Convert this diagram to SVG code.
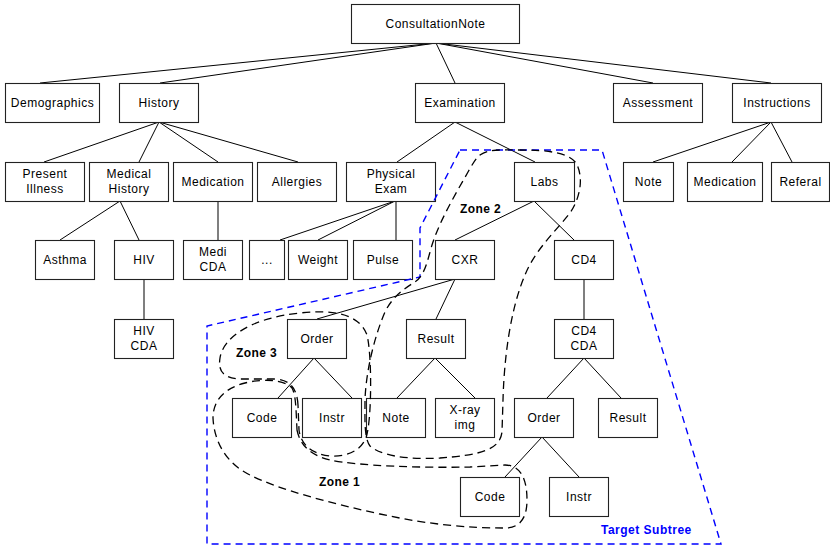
<svg xmlns="http://www.w3.org/2000/svg" width="830" height="549" viewBox="0 0 830 549">
<style>
.box{fill:#fff;stroke:#222;stroke-width:1.1}
.t{font-family:"Liberation Sans",Arial,sans-serif;font-size:12px;letter-spacing:0.5px;text-anchor:middle;fill:#000}
.zl{font-family:"Liberation Sans",Arial,sans-serif;font-size:12px;font-weight:bold;letter-spacing:0.4px;fill:#000}
.tl{font-family:"Liberation Sans",Arial,sans-serif;font-size:12px;font-weight:bold;letter-spacing:0.5px;fill:#0000ff}
.e{stroke:#000;stroke-width:1;fill:none}
.v{stroke:#555;stroke-width:1.5;fill:none}
.zone{fill:none;stroke:#000;stroke-width:1.3;stroke-dasharray:8,5}
.target{fill:none;stroke:#0000ff;stroke-width:1.4;stroke-dasharray:7,5}
</style>
<rect width="830" height="549" fill="#fff"/>
<g id="connectors">
<line class="e" x1="436" y1="43" x2="40" y2="83"/>
<line class="e" x1="436" y1="43" x2="160" y2="83"/>
<line class="e" x1="436" y1="43" x2="455" y2="83"/>
<line class="e" x1="436" y1="43" x2="653" y2="83"/>
<line class="e" x1="436" y1="43" x2="771" y2="83"/>
<line class="e" x1="159" y1="122" x2="44" y2="162"/>
<line class="e" x1="159" y1="122" x2="139" y2="162"/>
<line class="e" x1="159" y1="122" x2="218" y2="162"/>
<line class="e" x1="159" y1="122" x2="298" y2="162"/>
<line class="e" x1="120" y1="201" x2="60" y2="240"/>
<line class="e" x1="120" y1="201" x2="139" y2="240"/>
<line class="v" x1="218" y1="201" x2="218" y2="240"/>
<line class="e" x1="395" y1="201" x2="280" y2="240"/>
<line class="e" x1="395" y1="201" x2="318" y2="240"/>
<line class="v" x1="396" y1="201" x2="396" y2="240"/>
<line class="e" x1="455" y1="122" x2="397" y2="162"/>
<line class="e" x1="455" y1="122" x2="535" y2="162"/>
<line class="e" x1="534" y1="201" x2="455" y2="240"/>
<line class="e" x1="534" y1="201" x2="574" y2="240"/>
<line class="e" x1="771" y1="122" x2="653" y2="162"/>
<line class="e" x1="771" y1="122" x2="732" y2="162"/>
<line class="e" x1="771" y1="122" x2="792" y2="162"/>
<line class="v" x1="144" y1="279" x2="144" y2="319"/>
<line class="e" x1="455" y1="279" x2="317" y2="319"/>
<line class="e" x1="455" y1="279" x2="436" y2="319"/>
<line class="v" x1="584" y1="279" x2="584" y2="319"/>
<line class="e" x1="314" y1="358" x2="278" y2="398"/>
<line class="e" x1="314" y1="358" x2="352" y2="398"/>
<line class="e" x1="435" y1="358" x2="397" y2="398"/>
<line class="e" x1="435" y1="358" x2="475" y2="398"/>
<line class="e" x1="584" y1="358" x2="547" y2="398"/>
<line class="e" x1="584" y1="358" x2="621" y2="398"/>
<line class="e" x1="542" y1="437" x2="505" y2="477"/>
<line class="e" x1="542" y1="437" x2="579" y2="477"/>
</g>
<g id="n-consultationnote"><rect class="box" x="351.5" y="4.5" width="168" height="39"/><text class="t" x="435.5" y="28">ConsultationNote</text></g>
<g id="n-demographics"><rect class="box" x="5.5" y="83.5" width="94" height="39"/><text class="t" x="52.5" y="107">Demographics</text></g>
<g id="n-history"><rect class="box" x="119.5" y="83.5" width="79" height="39"/><text class="t" x="159" y="107">History</text></g>
<g id="n-examination"><rect class="box" x="415.5" y="83.5" width="89" height="39"/><text class="t" x="460" y="107">Examination</text></g>
<g id="n-assessment"><rect class="box" x="613.5" y="83.5" width="89" height="39"/><text class="t" x="658" y="107">Assessment</text></g>
<g id="n-instructions"><rect class="box" x="732.5" y="83.5" width="89" height="39"/><text class="t" x="777" y="107">Instructions</text></g>
<g id="n-presentillness"><rect class="box" x="5.5" y="162.5" width="79" height="39"/><text class="t" x="45" y="178">Present</text><text class="t" x="45" y="193">Illness</text></g>
<g id="n-medicalhistory"><rect class="box" x="89.5" y="162.5" width="79" height="39"/><text class="t" x="129" y="178">Medical</text><text class="t" x="129" y="193">History</text></g>
<g id="n-medication1"><rect class="box" x="173.5" y="162.5" width="79" height="39"/><text class="t" x="213" y="186">Medication</text></g>
<g id="n-allergies"><rect class="box" x="257.5" y="162.5" width="79" height="39"/><text class="t" x="297" y="186">Allergies</text></g>
<g id="n-physicalexam"><rect class="box" x="346.5" y="162.5" width="89" height="39"/><text class="t" x="391" y="178">Physical</text><text class="t" x="391" y="193">Exam</text></g>
<g id="n-labs"><rect class="box" x="514.5" y="162.5" width="60" height="39"/><text class="t" x="544.5" y="186">Labs</text></g>
<g id="n-note1"><rect class="box" x="623.5" y="162.5" width="50" height="39"/><text class="t" x="648.5" y="186">Note</text></g>
<g id="n-medication2"><rect class="box" x="687.5" y="162.5" width="75" height="39"/><text class="t" x="725" y="186">Medication</text></g>
<g id="n-referal"><rect class="box" x="771.5" y="162.5" width="58" height="39"/><text class="t" x="800.5" y="186">Referal</text></g>
<g id="n-asthma"><rect class="box" x="35.5" y="240.5" width="59" height="39"/><text class="t" x="65" y="264">Asthma</text></g>
<g id="n-hiv"><rect class="box" x="114.5" y="240.5" width="59" height="39"/><text class="t" x="144" y="264">HIV</text></g>
<g id="n-medicda"><rect class="box" x="183.5" y="240.5" width="59" height="39"/><text class="t" x="213" y="256">Medi</text><text class="t" x="213" y="271">CDA</text></g>
<g id="n-ellipsis"><rect class="box" x="249.5" y="240.5" width="35" height="39"/><text class="t" x="267" y="264">...</text></g>
<g id="n-weight"><rect class="box" x="288.5" y="240.5" width="59" height="39"/><text class="t" x="318" y="264">Weight</text></g>
<g id="n-pulse"><rect class="box" x="353.5" y="240.5" width="59" height="39"/><text class="t" x="383" y="264">Pulse</text></g>
<g id="n-cxr"><rect class="box" x="435.5" y="240.5" width="59" height="39"/><text class="t" x="465" y="264">CXR</text></g>
<g id="n-cd4"><rect class="box" x="554.5" y="240.5" width="59" height="39"/><text class="t" x="584" y="264">CD4</text></g>
<g id="n-hivcda"><rect class="box" x="114.5" y="319.5" width="59" height="39"/><text class="t" x="144" y="335">HIV</text><text class="t" x="144" y="350">CDA</text></g>
<g id="n-order1"><rect class="box" x="287.5" y="319.5" width="59" height="39"/><text class="t" x="317" y="343">Order</text></g>
<g id="n-result1"><rect class="box" x="406.5" y="319.5" width="59" height="39"/><text class="t" x="436" y="343">Result</text></g>
<g id="n-cd4cda"><rect class="box" x="554.5" y="319.5" width="59" height="39"/><text class="t" x="584" y="335">CD4</text><text class="t" x="584" y="350">CDA</text></g>
<g id="n-code1"><rect class="box" x="232.5" y="398.5" width="59" height="39"/><text class="t" x="262" y="422">Code</text></g>
<g id="n-instr1"><rect class="box" x="302.5" y="398.5" width="59" height="39"/><text class="t" x="332" y="422">Instr</text></g>
<g id="n-note2"><rect class="box" x="366.5" y="398.5" width="59" height="39"/><text class="t" x="396" y="422">Note</text></g>
<g id="n-xray"><rect class="box" x="435.5" y="398.5" width="59" height="39"/><text class="t" x="465" y="414">X-ray</text><text class="t" x="465" y="429">img</text></g>
<g id="n-order2"><rect class="box" x="514.5" y="398.5" width="59" height="39"/><text class="t" x="544" y="422">Order</text></g>
<g id="n-result2"><rect class="box" x="598.5" y="398.5" width="59" height="39"/><text class="t" x="628" y="422">Result</text></g>
<g id="n-code2"><rect class="box" x="460.5" y="477.5" width="59" height="39"/><text class="t" x="490" y="501">Code</text></g>
<g id="n-instr2"><rect class="box" x="549.5" y="477.5" width="59" height="39"/><text class="t" x="579" y="501">Instr</text></g>
<g id="target-subtree">
<path class="target" d="M460,150 L602,150 L721,544 L207,544 L207,326 L420,277 L420,228 Z"/>
<text class="tl" x="601" y="534">Target Subtree</text>
</g>
<g id="zone2">
<path class="zone" d="M480,155 C488,149 500,150 520,150 C545,150 568,152 576,163 C583,175 582,195 570,213 C555,232 535,250 525,275 C510,310 504,360 503,400 L502,432 C500,450 480,455 440,458 C405,460 380,455 370,446 C364,438 365,420 365,400 C366,370 375,335 385,312 C392,297 405,288 415,282 C425,275 427,262 432,245 C440,220 455,195 468,172 C472,165 476,158 480,155 Z"/>
<text class="zl" x="460" y="213">Zone 2</text>
</g>
<g id="zone3">
<path class="zone" d="M298,405 C297,388 290,380 275,379 L240,379 C222,378 218,370 220,358 C223,338 250,318 300,313 C335,309 360,315 367,335 C372,355 372,420 366,438 C360,452 345,457 330,456 C312,454 301,445 299,430 Z"/>
<text class="zl" x="236" y="357">Zone 3</text>
</g>
<g id="zone1">
<path class="zone" d="M297,430 C300,445 310,455 330,460 C360,466 420,468 470,467 L505,465 C520,465 527,478 527,500 C527,518 520,528 505,528 C470,528 430,525 380,514 C330,503 280,490 250,475 C225,463 214,440 213,418 C213,400 225,388 245,383 C265,378 285,380 292,388 C296,395 296,410 297,430 Z"/>
<text class="zl" x="319" y="486">Zone 1</text>
</g>
</svg>
